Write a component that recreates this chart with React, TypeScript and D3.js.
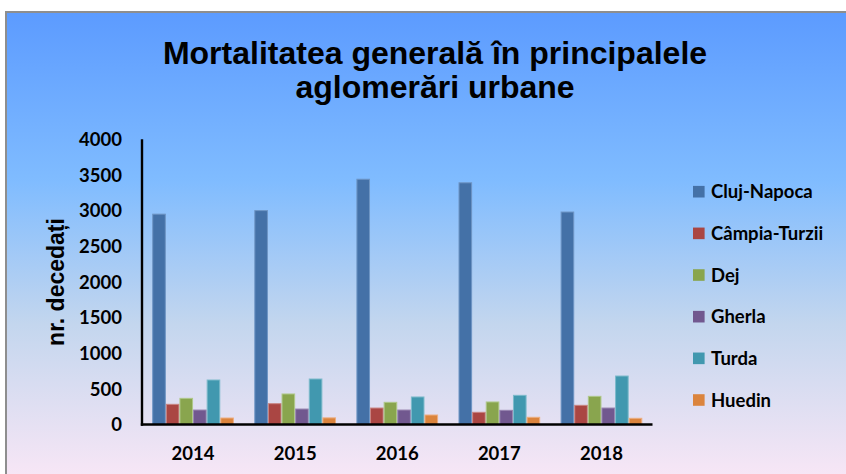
import React from 'react';
import * as d3 from 'd3';

const categories = ['2014', '2015', '2016', '2017', '2018'];
const seriesNames = ['Cluj-Napoca', 'Câmpia-Turzii', 'Dej', 'Gherla', 'Turda', 'Huedin'];
const clujNapoca = [2950, 3000, 3440, 3390, 2980];
const campiaTurzii = [283, 292, 231, 171, 269];
const dej = [367, 428, 311, 316, 395];
const gherla = [203, 217, 203, 199, 231];
const turda = [624, 638, 386, 409, 680];
const huedin = [91, 93, 133, 101, 87];
const yTicks = [0, 500, 1000, 1500, 2000, 2500, 3000, 3500, 4000];
const colors = ['#4471A7', '#AA4643', '#89A54E', '#71588F', '#4198AF', '#DB843D'];
const strokes = ['#6E95C4', '#C98583', '#AFC889', '#9886B0', '#7DBACB', '#EDAE80'];

const seriesValues = [clujNapoca, campiaTurzii, dej, gherla, turda, huedin];

export default function App() {
  const W = 846, H = 474;
  const x0 = 142, x1 = 652.5, yBase = 424.5, yTop = 139.3;
  const x = d3.scaleBand<string>().domain(categories).range([x0, x1]).paddingInner(1.5 / 7.5).paddingOuter(0.75 / 7.5);
  const xs = d3.scaleBand<string>().domain(seriesNames).range([0, x.bandwidth()]);
  const y = d3.scaleLinear().domain([0, 4000]).range([yBase, yTop]);
  const tickFont = 'Lato, "Open Sans", sans-serif';
  const titleFont = '"Liberation Sans", Arial, sans-serif';
  const legendY = d3.scalePoint<string>().domain(seriesNames).range([191.7, 400]);

  return (
    <svg width={W} height={H} style={{ position: 'absolute', left: 0, top: 0 }}>
      <defs>
        <linearGradient id="bg" x1="0" y1="0" x2="0" y2="1">
          <stop offset="0" stopColor="#5C9BFF" />
          <stop offset="0.36" stopColor="#80BCFF" />
          <stop offset="0.66" stopColor="#C3D6EE" />
          <stop offset="1" stopColor="#FAE7F6" />
        </linearGradient>
      </defs>
      <rect x={0} y={0} width={W} height={H} fill="#ffffff" />
      <rect x={6} y={12} width={852} height={472} fill="url(#bg)" stroke="#8E8E8E" strokeWidth={2} />

      <text x={435} y={63.5} textAnchor="middle" fontFamily={titleFont} fontWeight="bold" fontSize={32} fill="#000">
        Mortalitatea generală în principalele
      </text>
      <text x={435} y={98} textAnchor="middle" fontFamily={titleFont} fontWeight="bold" fontSize={32} fill="#000">
        aglomerări urbane
      </text>

      <text transform={`translate(64,282) rotate(-90)`} textAnchor="middle" fontFamily={titleFont} fontWeight="bold" fontSize={23} fill="#000">
        nr. decedați
      </text>

      {yTicks.map((t) => (
        <text key={t} x={122} y={y(t)} dy="0.36em" textAnchor="end" fontFamily={tickFont} fontWeight="bold" fontSize={18.5} fill="#000">
          {t}
        </text>
      ))}

      {categories.map((c, ci) => (
        <g key={c} transform={`translate(${x(c)},0)`}>
          {seriesNames.map((s, si) => {
            const v = seriesValues[si][ci];
            return (
              <rect key={s} x={xs(s)! + 0.5} y={y(v)} width={xs.bandwidth() - 1} height={yBase - y(v)}
                fill={colors[si]} stroke={strokes[si]} strokeWidth={1} />
            );
          })}
        </g>
      ))}

      {categories.map((c) => (
        <text key={c} x={x(c)! + x.bandwidth() / 2} y={460} textAnchor="middle" fontFamily={tickFont} fontWeight="bold" fontSize={18.5} fill="#000">
          {c}
        </text>
      ))}

      <line x1={x0} x2={x0} y1={yTop} y2={yBase + 1.2} stroke="#000" strokeWidth={2.4} />
      <line x1={x0 - 1.2} x2={x1} y1={yBase} y2={yBase} stroke="#000" strokeWidth={2.4} />

      {seriesNames.map((s, si) => (
        <g key={s} transform={`translate(0,${legendY(s)})`}>
          <rect x={693} y={-5.8} width={11.6} height={11.6} fill={colors[si]} />
          <text x={711} y={0} dy="0.36em" fontFamily={tickFont} fontWeight="bold" fontSize={18.5} fill="#000">
            {s}
          </text>
        </g>
      ))}
    </svg>
  );
}
